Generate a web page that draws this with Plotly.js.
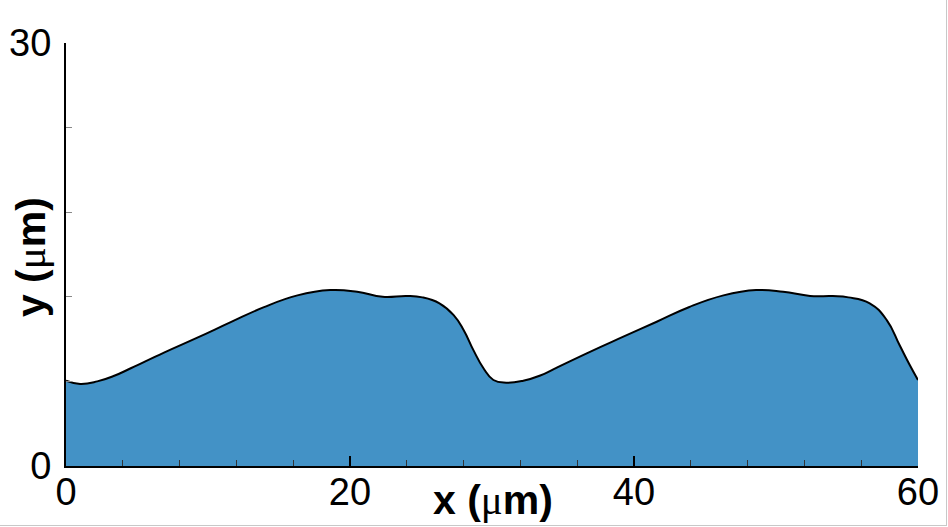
<!DOCTYPE html>
<html>
<head>
<meta charset="utf-8">
<script src="https://cdn.plot.ly/plotly-3.0.1.min.js"></script>
<style>
  html, body { margin: 0; padding: 0; background: #fff; }
  #wrap { position: relative; width: 948px; height: 527px; overflow: hidden; }
  #chart { width: 948px; height: 527px; }
  #frame { position: absolute; left: 0; top: 0; width: 946px; height: 525px;
           border-right: 1px solid #c8c8c8; border-bottom: 1px solid #c8c8c8; pointer-events: none; }
</style>
</head>
<body>
<div id="wrap"><div id="chart"></div><div id="frame"></div></div>
<script>
// Surface profile
const xPos = [0, 1.0, 2.2, 3.4, 4.6, 6.9, 9.25, 11.6, 13.9, 16.3, 18.6, 20.5, 22.3, 24.0, 25.1, 26.3, 27.3, 28.0, 28.7, 29.4, 30.1, 31.0, 32.2, 33.4, 34.6, 36.9, 39.25, 41.6, 43.9, 46.3, 48.6, 50.5, 52.4, 54.0, 55.1, 56.6, 57.8, 58.7, 59.4, 60.0];
const yHeight = [6.05, 5.82, 6.0, 6.4, 6.95, 8.04, 9.1, 10.2, 11.25, 12.1, 12.48, 12.36, 12.0, 12.06, 11.96, 11.54, 10.7, 9.65, 8.2, 6.93, 6.1, 5.91, 6.05, 6.42, 7.0, 8.1, 9.17, 10.23, 11.28, 12.1, 12.48, 12.36, 12.06, 12.05, 11.96, 11.54, 10.35, 8.58, 7.2, 6.1];

const xTickVals = [0, 20, 40, 60];
const xTickText = ['0', '20', '40', '60'];
const yTickVals = [0, 30];
const yTickText = ['0', '30'];

const trace = {
  x: xPos, y: yHeight,
  type: 'scatter', mode: 'lines',
  line: { shape: 'spline', smoothing: 1.3, color: '#000000', width: 2 },
  fill: 'tozeroy', fillcolor: '#4392c6',
  hoverinfo: 'skip'
};

const layout = {
  width: 948, height: 527,
  margin: { l: 66, r: 30, t: 43, b: 61 },
  paper_bgcolor: '#ffffff', plot_bgcolor: '#ffffff',
  showlegend: false,
  font: { family: 'Liberation Sans, Arial, sans-serif', color: '#000000' },
  xaxis: {
    range: [0, 60], showgrid: false, zeroline: false,
    showline: true, linecolor: '#000000', linewidth: 2,
    tickmode: 'array', tickvals: xTickVals, ticktext: xTickText,
    ticks: 'inside', ticklen: 10, tickwidth: 1.5, tickcolor: '#000000',
    minor: { ticks: 'inside', dtick: 4, tick0: 0, ticklen: 6, tickwidth: 1, tickcolor: '#333333', showgrid: false },
    tickfont: { size: 38, family: 'Liberation Sans, Arial, sans-serif', color: '#000' },
    ticklabelstandoff: -9
  },
  yaxis: {
    range: [0, 30], showgrid: false, zeroline: false,
    showline: true, linecolor: '#000000', linewidth: 2,
    tickmode: 'array', tickvals: yTickVals, ticktext: yTickText,
    ticks: 'inside', ticklen: 10, tickwidth: 1.5, tickcolor: '#000000',
    minor: { ticks: 'inside', dtick: 6, tick0: 0, ticklen: 6, tickwidth: 1, tickcolor: '#888888', showgrid: false },
    tickfont: { size: 38, family: 'Liberation Sans, Arial, sans-serif', color: '#000' },
    ticklabelstandoff: 5
  },
  annotations: [
    {
      text: '<b>x (</b><span style="font-family:Liberation Serif">μ</span><b>m)</b>',
      xref: 'paper', yref: 'paper', x: 0.501, y: -0.080, xanchor: 'center', yanchor: 'middle',
      showarrow: false, font: { size: 41, family: 'Liberation Sans, Arial, sans-serif', color: '#000' }
    },
    {
      text: '<b>y (</b><span style="font-family:Liberation Serif">μ</span><b>m)</b>',
      xref: 'paper', yref: 'paper', x: -0.041, y: 0.494, xanchor: 'center', yanchor: 'middle',
      textangle: -90,
      showarrow: false, font: { size: 41, family: 'Liberation Sans, Arial, sans-serif', color: '#000' }
    }
  ]
};

Plotly.newPlot('chart', [trace], layout, { staticPlot: true, displayModeBar: false });
</script>
</body>
</html>
